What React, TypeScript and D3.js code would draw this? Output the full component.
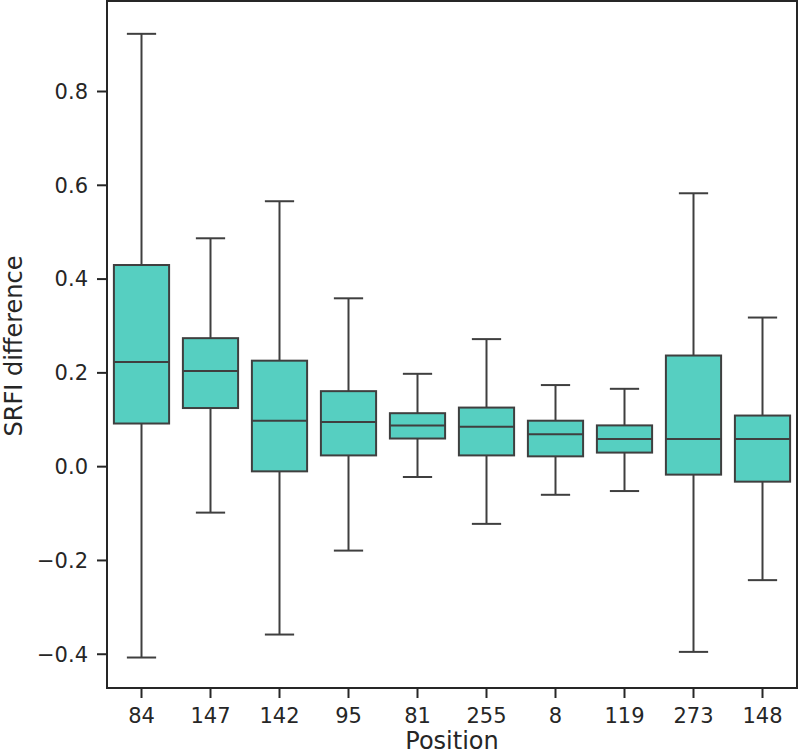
import React from "react";
import * as d3 from "d3";

const categories = ["84", "147", "142", "95", "81", "255", "8", "119", "273", "148"];
const whiskerLow = [-0.407, -0.098, -0.358, -0.179, -0.022, -0.122, -0.060, -0.052, -0.395, -0.242];
const q1 = [0.092, 0.125, -0.010, 0.024, 0.060, 0.024, 0.022, 0.030, -0.017, -0.032];
const medians = [0.223, 0.204, 0.098, 0.095, 0.088, 0.085, 0.069, 0.059, 0.059, 0.059];
const q3 = [0.430, 0.274, 0.226, 0.161, 0.114, 0.126, 0.098, 0.088, 0.237, 0.109];
const whiskerHigh = [0.923, 0.487, 0.566, 0.359, 0.198, 0.272, 0.174, 0.166, 0.583, 0.318];
const yTicks = [-0.4, -0.2, 0.0, 0.2, 0.4, 0.6, 0.8];

const W = 800;
const H = 755;
const left = 107;
const right = 797;
const top = 1;
const bottom = 688;

export default function App() {
  const x = d3.scaleBand<string>().domain(categories).range([left, right]).padding(0);
  const y = d3.scaleLinear().domain([-0.472, 0.993]).range([bottom, top]);
  const bw = x.bandwidth() * 0.8;
  const capW = bw * 0.53;
  const stroke = "#3f3f3f";
  const font = "DejaVu Sans, sans-serif";
  return (
    <svg width={W} height={H} style={{ position: "absolute", left: 0, top: 0, background: "#fff" }}>
      {categories.map((c, i) => {
        const cx = (x(c) as number) + x.bandwidth() / 2;
        return (
          <g key={c}>
            <line x1={cx} x2={cx} y1={y(q3[i])} y2={y(whiskerHigh[i])} stroke={stroke} strokeWidth={2} />
            <line x1={cx} x2={cx} y1={y(q1[i])} y2={y(whiskerLow[i])} stroke={stroke} strokeWidth={2} />
            <line x1={cx - capW / 2} x2={cx + capW / 2} y1={y(whiskerHigh[i])} y2={y(whiskerHigh[i])} stroke={stroke} strokeWidth={2} />
            <line x1={cx - capW / 2} x2={cx + capW / 2} y1={y(whiskerLow[i])} y2={y(whiskerLow[i])} stroke={stroke} strokeWidth={2} />
            <rect x={cx - bw / 2} y={y(q3[i])} width={bw} height={y(q1[i]) - y(q3[i])} fill="#56cfc1" stroke={stroke} strokeWidth={2} />
            <line x1={cx - bw / 2} x2={cx + bw / 2} y1={y(medians[i])} y2={y(medians[i])} stroke={stroke} strokeWidth={2} />
          </g>
        );
      })}
      <rect x={left} y={top} width={right - left} height={bottom - top} fill="none" stroke="#262626" strokeWidth={2} />
      {yTicks.map((t) => (
        <g key={t}>
          <line x1={left - 10} x2={left} y1={y(t)} y2={y(t)} stroke="#262626" strokeWidth={2} />
          <text x={left - 19} y={y(t)} dy="0.35em" textAnchor="end" fontFamily={font} fontSize={21} fill="#262626">
            {t < 0 ? "\u2212" + Math.abs(t).toFixed(1) : t.toFixed(1)}
          </text>
        </g>
      ))}
      {categories.map((c) => {
        const cx = (x(c) as number) + x.bandwidth() / 2;
        return (
          <g key={"t" + c}>
            <line x1={cx} x2={cx} y1={bottom} y2={bottom + 10} stroke="#262626" strokeWidth={2} />
            <text x={cx} y={bottom + 35} textAnchor="middle" fontFamily={font} fontSize={21} fill="#262626">
              {c}
            </text>
          </g>
        );
      })}
      <text x={(left + right) / 2} y={749} textAnchor="middle" fontFamily={font} fontSize={24} fill="#262626">
        Position
      </text>
      <text transform={`translate(22, 346) rotate(-90)`} textAnchor="middle" fontFamily={font} fontSize={24} fill="#262626">
        SRFI difference
      </text>
    </svg>
  );
}
